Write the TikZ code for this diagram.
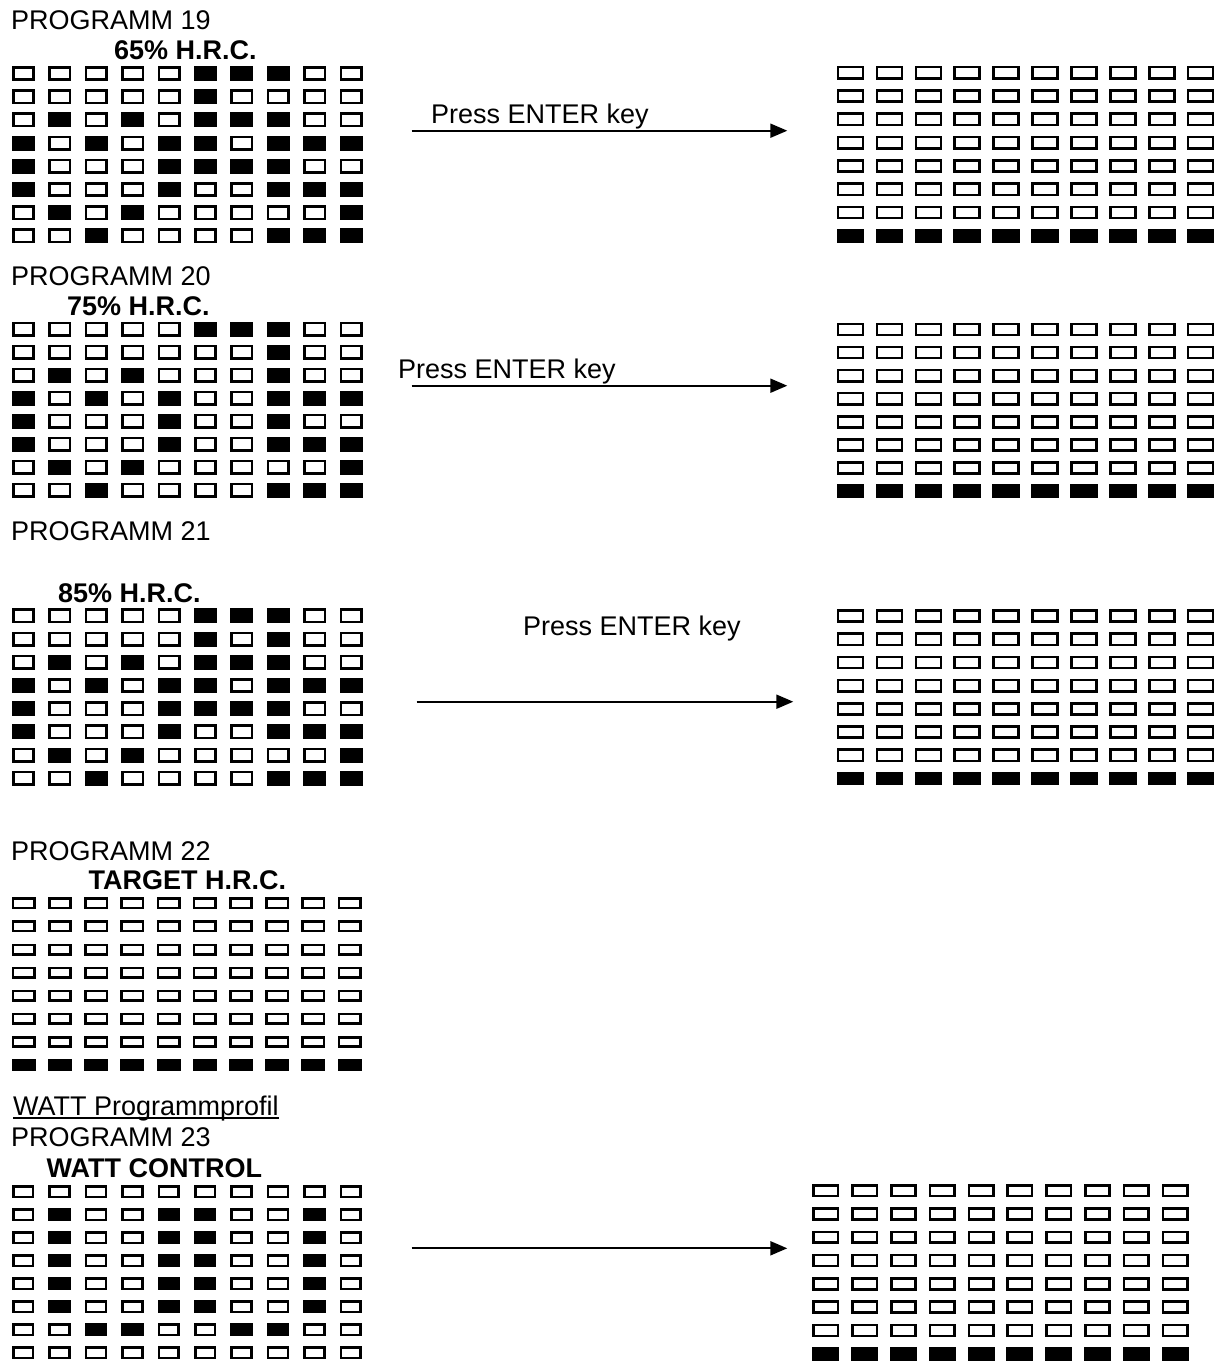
\documentclass[tikz,border=0pt]{standalone}
\usepackage{fontspec}
\setmainfont{Liberation Sans}
\usetikzlibrary{arrows.meta}

% one panel of 10 x 8 lamps; rows given top to bottom, 1 = lit
\newcommand{\ledpanel}[8]{%
  \foreach \ledrow [count=\j from 0] in {#8} {
    \foreach \ledbit [count=\i from 0] in \ledrow {
      \ifnum\ledbit=1 \def\ledfill{black}\else\def\ledfill{white}\fi
      \node[led, fill=\ledfill, minimum width=#6, minimum height=#7]
        (#1-\j-\i) at ({#2+\i*#4},{#3+\j*#5}) {};
    }
  }
}

\begin{document}
\begin{tikzpicture}[
    x=1pt, y=-1pt,
    led/.style={draw=black, line width=2.6pt, inner sep=0pt, outer sep=0pt},
    proglabel/.style={anchor=base west, inner sep=0pt, font=\fontsize{27}{30}\selectfont},
    modelabel/.style={anchor=base west, inner sep=0pt, font=\fontsize{27}{30}\selectfont\bfseries},
    keylabel/.style={anchor=base west, inner sep=0pt, font=\fontsize{27}{30}\selectfont},
    enterarrow/.style={-{Triangle[length=17pt, width=14pt]}, line width=2pt},
]
\useasboundingbox (0,0) rectangle (1226,1370);

% ---------- programm 19
\node[proglabel] (p19) at (11,29.3) {PROGRAMM 19};
\node[modelabel] (m19) at (114,60) {65\% H.R.C.};
\ledpanel{L19}{23.5}{73.5}{36.4}{23.2}{20.4pt}{12.4pt}{
  {0,0,0,0,0,1,1,1,0,0},{0,0,0,0,0,1,0,0,0,0},{0,1,0,1,0,1,1,1,0,0},{1,0,1,0,1,1,0,1,1,1},
  {1,0,0,0,1,1,1,1,0,0},{1,0,0,0,1,0,0,1,1,1},{0,1,0,1,0,0,0,0,0,1},{0,0,1,0,0,0,0,1,1,1}}
\ledpanel{R19}{850.5}{72.7}{38.9}{23.3}{25pt}{11.2pt}{
  {0,0,0,0,0,0,0,0,0,0},{0,0,0,0,0,0,0,0,0,0},{0,0,0,0,0,0,0,0,0,0},{0,0,0,0,0,0,0,0,0,0},
  {0,0,0,0,0,0,0,0,0,0},{0,0,0,0,0,0,0,0,0,0},{0,0,0,0,0,0,0,0,0,0},{1,1,1,1,1,1,1,1,1,1}}
\node[keylabel] (k19) at (431,123.3) {Press ENTER key};
\coordinate (a19s) at (411.7,130.7);
\coordinate (a19e) at (787.3,130.7);
\draw[enterarrow] (a19s) -- (a19e);

% ---------- programm 20
\node[proglabel] (p20) at (11,285) {PROGRAMM 20};
\node[modelabel] (m20) at (67,315) {75\% H.R.C.};
\ledpanel{L20}{23.5}{329.2}{36.4}{23.0}{20.4pt}{12.4pt}{
  {0,0,0,0,0,1,1,1,0,0},{0,0,0,0,0,0,0,1,0,0},{0,1,0,1,0,0,0,1,0,0},{1,0,1,0,1,0,0,1,1,1},
  {1,0,0,0,1,0,0,1,0,0},{1,0,0,0,1,0,0,1,1,1},{0,1,0,1,0,0,0,0,0,1},{0,0,1,0,0,0,0,1,1,1}}
\ledpanel{R20}{850.5}{329.4}{38.9}{23.1}{25pt}{11.2pt}{
  {0,0,0,0,0,0,0,0,0,0},{0,0,0,0,0,0,0,0,0,0},{0,0,0,0,0,0,0,0,0,0},{0,0,0,0,0,0,0,0,0,0},
  {0,0,0,0,0,0,0,0,0,0},{0,0,0,0,0,0,0,0,0,0},{0,0,0,0,0,0,0,0,0,0},{1,1,1,1,1,1,1,1,1,1}}
\node[keylabel] (k20) at (398,378.3) {Press ENTER key};
\coordinate (a20s) at (411.7,385.7);
\coordinate (a20e) at (787.3,385.7);
\draw[enterarrow] (a20s) -- (a20e);

% ---------- programm 21
\node[proglabel] (p21) at (11,540.7) {PROGRAMM 21};
\node[modelabel] (m21) at (58,602.7) {85\% H.R.C.};
\ledpanel{L21}{23.5}{615.8}{36.4}{23.2}{20.4pt}{12.4pt}{
  {0,0,0,0,0,1,1,1,0,0},{0,0,0,0,0,1,0,1,0,0},{0,1,0,1,0,1,1,1,0,0},{1,0,1,0,1,1,0,1,1,1},
  {1,0,0,0,1,1,1,1,0,0},{1,0,0,0,1,0,0,1,1,1},{0,1,0,1,0,0,0,0,0,1},{0,0,1,0,0,0,0,1,1,1}}
\ledpanel{R21}{850.5}{616}{38.9}{23.2}{25pt}{11.2pt}{
  {0,0,0,0,0,0,0,0,0,0},{0,0,0,0,0,0,0,0,0,0},{0,0,0,0,0,0,0,0,0,0},{0,0,0,0,0,0,0,0,0,0},
  {0,0,0,0,0,0,0,0,0,0},{0,0,0,0,0,0,0,0,0,0},{0,0,0,0,0,0,0,0,0,0},{1,1,1,1,1,1,1,1,1,1}}
\node[keylabel] (k21) at (523,635) {Press ENTER key};
\coordinate (a21s) at (416.7,701.7);
\coordinate (a21e) at (793.3,701.7);
\draw[enterarrow] (a21s) -- (a21e);

% ---------- programm 22
\node[proglabel] (p22) at (11,860) {PROGRAMM 22};
\node[modelabel] (m22) at (88.5,889.3) {TARGET H.R.C.};
\ledpanel{L22}{23.7}{903.3}{36.2}{23.1}{21.4pt}{9.4pt}{
  {0,0,0,0,0,0,0,0,0,0},{0,0,0,0,0,0,0,0,0,0},{0,0,0,0,0,0,0,0,0,0},{0,0,0,0,0,0,0,0,0,0},
  {0,0,0,0,0,0,0,0,0,0},{0,0,0,0,0,0,0,0,0,0},{0,0,0,0,0,0,0,0,0,0},{1,1,1,1,1,1,1,1,1,1}}

% ---------- watt profile, programm 23
\node[proglabel] (wprof) at (13,1115) {WATT Programmprofil};
\draw[line width=1.8pt] ([yshift=-3.3pt]wprof.base west) -- ([yshift=-3.3pt]wprof.base east);
\node[proglabel] (p23) at (11,1146) {PROGRAMM 23};
\node[modelabel] (m23) at (46.5,1177.3) {WATT CONTROL};
\ledpanel{L23}{23.2}{1191.7}{36.4}{23.0}{19.7pt}{10.7pt}{
  {0,0,0,0,0,0,0,0,0,0},{0,1,0,0,1,1,0,0,1,0},{0,1,0,0,1,1,0,0,1,0},{0,1,0,0,1,1,0,0,1,0},
  {0,1,0,0,1,1,0,0,1,0},{0,1,0,0,1,1,0,0,1,0},{0,0,1,1,0,0,1,1,0,0},{0,0,0,0,0,0,0,0,0,0}}
\ledpanel{R23}{825.8}{1190.7}{38.8}{23.3}{24.4pt}{10.9pt}{
  {0,0,0,0,0,0,0,0,0,0},{0,0,0,0,0,0,0,0,0,0},{0,0,0,0,0,0,0,0,0,0},{0,0,0,0,0,0,0,0,0,0},
  {0,0,0,0,0,0,0,0,0,0},{0,0,0,0,0,0,0,0,0,0},{0,0,0,0,0,0,0,0,0,0},{1,1,1,1,1,1,1,1,1,1}}
\coordinate (a23s) at (411.7,1248.3);
\coordinate (a23e) at (787.3,1248.3);
\draw[enterarrow] (a23s) -- (a23e);
\end{tikzpicture}
\end{document}
